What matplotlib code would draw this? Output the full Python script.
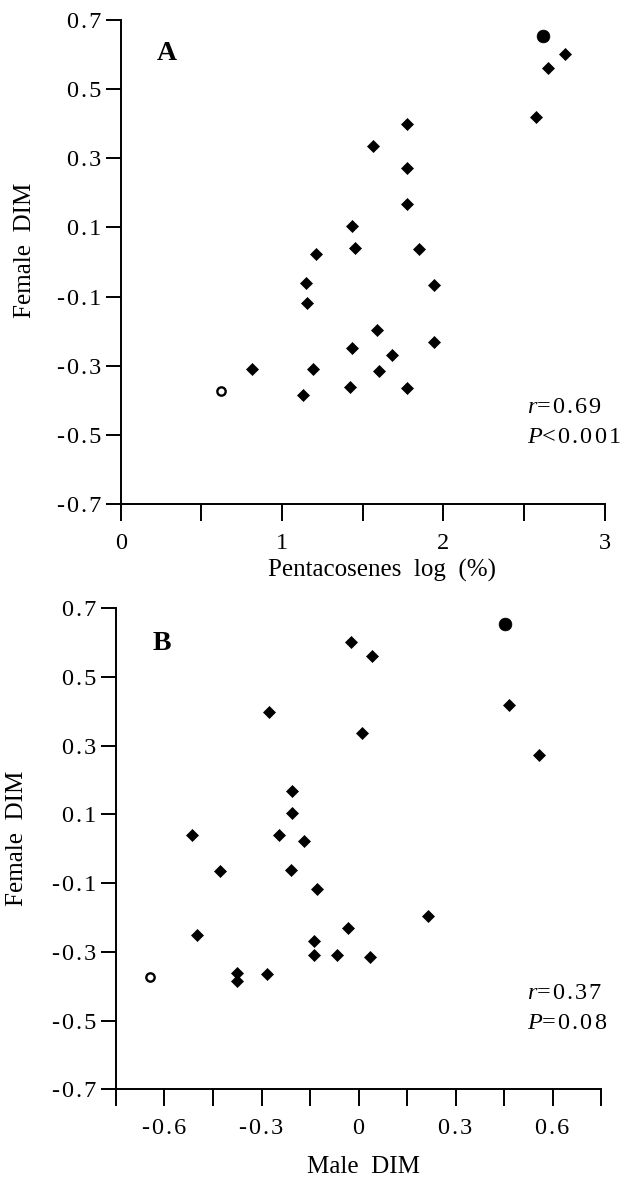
import matplotlib
matplotlib.use("Agg")
import matplotlib.pyplot as plt

# Female DIM is shared by both panels (one value per population)
female_dim = [0.603, 0.562, 0.419, 0.399, 0.336, 0.273, 0.168, 0.104,
              0.040, 0.039, 0.024, -0.062, -0.066, -0.118, -0.196, -0.232,
              -0.250, -0.268, -0.310, -0.310, -0.316, -0.361, -0.364, -0.384]
pentacosenes_log = [2.754, 2.647, 2.575, 1.773, 1.562, 1.773, 1.773, 1.432,
                    1.453, 1.851, 1.209, 1.147, 1.944, 1.157, 1.591, 1.942,
                    1.436, 1.684, 0.814, 1.190, 1.600, 1.424, 1.777, 1.133]
male_dim = [-0.024, 0.041, 0.466, -0.278, 0.010, 0.557, -0.207, -0.207,
            -0.514, -0.245, -0.169, -0.209, -0.427, -0.129, 0.216, -0.031,
            -0.501, -0.139, -0.139, -0.067, 0.036, -0.377, -0.283, -0.377]

# the two highlighted populations (filled and open circle)
filled_female, filled_pent, filled_male = 0.654, 2.616, 0.454
open_female, open_pent, open_male = -0.372, 0.620, -0.645

y_ticks = [0.7, 0.5, 0.3, 0.1, -0.1, -0.3, -0.5, -0.7]
y_labels = ["0.7", "0.5", "0.3", "0.1", "-0.1", "-0.3", "-0.5", "-0.7"]
xa_ticks = [0, 0.5, 1, 1.5, 2, 2.5, 3]
xa_labels = ["0", "", "1", "", "2", "", "3"]
xb_ticks = [-0.75, -0.6, -0.45, -0.3, -0.15, 0, 0.15, 0.3, 0.45, 0.6, 0.75]
xb_labels = ["", "-0.6", "", "-0.3", "", "0", "", "0.3", "", "0.6", ""]

plt.rcParams['font.family'] = ['Liberation Serif', 'DejaVu Serif']
plt.rcParams['mathtext.fontset'] = 'custom'
plt.rcParams['mathtext.rm'] = 'Liberation Serif'
plt.rcParams['mathtext.it'] = 'Liberation Serif:italic'

HS = '\u200a'


def spaced(s):
    return HS.join(s)


def style_axes(ax, xticks, xlabels):
    ax.spines['top'].set_visible(False)
    ax.spines['right'].set_visible(False)
    for s in ('left', 'bottom'):
        ax.spines[s].set_linewidth(1.4)
    ax.set_ylim(-0.7, 0.7)
    ax.set_yticks(y_ticks)
    ax.set_yticklabels([spaced(t) for t in y_labels])
    ax.set_xticks(xticks)
    ax.set_xticklabels([spaced(t) for t in xlabels])
    ax.tick_params(axis='y', direction='out', length=10.5, width=1.4,
                   pad=3.5, labelsize=17.5)
    ax.tick_params(axis='x', direction='out', length=12.5, width=1.4,
                   pad=8.5, labelsize=17.5)
    ax.set_ylabel("Female  DIM", fontsize=18, va='center')


def draw_points(ax, xs, fx, ox):
    ax.plot(xs, female_dim, ls='none', marker='D', ms=6.6, color='black',
            mew=0.5, clip_on=False)
    ax.plot([fx], [filled_female], ls='none', marker='o', ms=9.2,
            color='black', mew=0.5, clip_on=False)
    ax.plot([ox], [open_female], ls='none', marker='o', ms=6.0,
            mfc='white', mec='black', mew=1.7, clip_on=False)


fig = plt.figure(figsize=(6.37, 11.79), dpi=100)

# Panel A
axA = fig.add_axes([0.1895, 0.5725, 0.7597, 0.4105])
axA.set_xlim(0, 3)
style_axes(axA, xa_ticks, xa_labels)
draw_points(axA, pentacosenes_log, filled_pent, open_pent)
axA.set_xlabel("Pentacosenes  log  (%)", fontsize=18, va='center')
axA.xaxis.set_label_coords(0.539, -0.138)
axA.yaxis.set_label_coords(-0.198, 0.525)
axA.text(0.226, 0.584, "A", fontsize=20, fontweight='bold',
         ha='left', va='baseline')
axA.text(2.52, -0.422, "$r$" + spaced("=0.69"), fontsize=17.5,
         ha='left', va='center')
axA.text(2.52, -0.509, "$P$" + spaced("<0.001"), fontsize=17.5,
         ha='left', va='center')

# Panel B
axB = fig.add_axes([0.1821, 0.0761, 0.7614, 0.408])
axB.set_xlim(-0.75, 0.75)
style_axes(axB, xb_ticks, xb_labels)
draw_points(axB, male_dim, filled_male, open_male)
axB.set_xlabel("Male  DIM", fontsize=18, va='center')
axB.xaxis.set_label_coords(0.510, -0.1615)
axB.yaxis.set_label_coords(-0.204, 0.522)
axB.text(-0.637, 0.579, "B", fontsize=20, fontweight='bold',
         ha='left', va='baseline')
axB.text(0.521, -0.421, "$r$" + spaced("=0.37"), fontsize=17.5,
         ha='left', va='center')
axB.text(0.521, -0.509, "$P$" + spaced("=0.08"), fontsize=17.5,
         ha='left', va='center')

fig.savefig("out.png", dpi=100)
